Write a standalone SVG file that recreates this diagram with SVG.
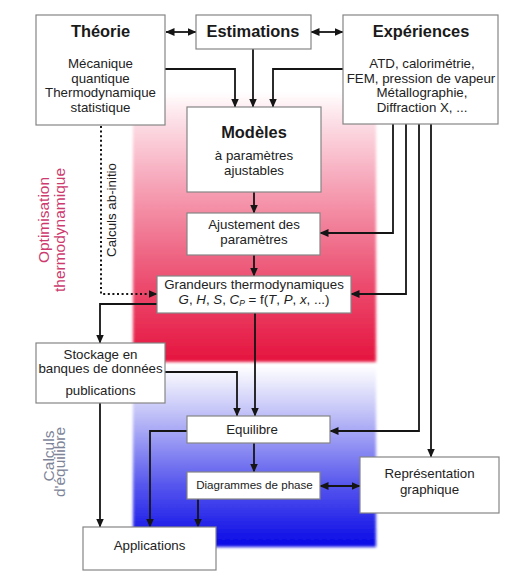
<svg xmlns="http://www.w3.org/2000/svg" width="512" height="575" viewBox="0 0 512 575">
<style>
.box{fill:#fff;stroke:#858585;stroke-width:1.2}
.t{font-family:"Liberation Sans",Arial,sans-serif;font-size:13.3px;fill:#222;text-anchor:middle}
.h{font-family:"Liberation Sans",Arial,sans-serif;font-size:16.4px;font-weight:bold;fill:#1a1a1a;text-anchor:middle}
.s{font-family:"Liberation Sans",Arial,sans-serif;font-size:11.6px;fill:#222;text-anchor:middle}
.side{font-family:"Liberation Sans",Arial,sans-serif;font-size:15.5px;text-anchor:middle}
.c{fill:none;stroke:#151515;stroke-width:1.8}
.arr{marker-end:url(#ah)}
.dbl{marker-start:url(#ah);marker-end:url(#ah)}
.dot{fill:none;stroke:#151515;stroke-width:2;stroke-dasharray:2 2.6}
</style>
<defs>
<marker id="ah" markerUnits="userSpaceOnUse" markerWidth="9" markerHeight="9" refX="8.5" refY="4.5" orient="auto-start-reverse" viewBox="0 0 9 9">
<path d="M0,0.5 L9,4.5 L0,8.5 z" fill="#151515"/>
</marker>
<linearGradient id="gr" x1="0" y1="0" x2="0" y2="1">
<stop offset="0" stop-color="#ffffff"/>
<stop offset="0.08" stop-color="#fde6ec"/>
<stop offset="0.35" stop-color="#f6a2b6"/>
<stop offset="0.7" stop-color="#ec4e70"/>
<stop offset="1" stop-color="#e5143f"/>
</linearGradient>
<linearGradient id="gb" x1="0" y1="0" x2="0" y2="1">
<stop offset="0" stop-color="#ffffff"/>
<stop offset="0.25" stop-color="#c4c4f8"/>
<stop offset="0.65" stop-color="#5858ee"/>
<stop offset="1" stop-color="#0808e6"/>
</linearGradient>
<filter id="soft" x="-5%" y="-5%" width="110%" height="110%"><feGaussianBlur stdDeviation="1.5"/></filter>
</defs>
<rect width="512" height="575" fill="#fff"/>
<g id="bg">
<rect x="133" y="92" width="243" height="270" fill="url(#gr)" filter="url(#soft)"/>
<rect x="133" y="366" width="243" height="181" fill="url(#gb)" filter="url(#soft)"/>
</g>
<g id="labels">
<text class="side" fill="#cc3a6e" transform="translate(49,220) rotate(-90)">Optimisation</text>
<text class="side" fill="#cc3a6e" transform="translate(65,230) rotate(-90)">thermodynamique</text>
<text class="side" fill="#7d8498" transform="translate(54,456) rotate(-90)">Calculs</text>
<text class="side" fill="#7d8498" transform="translate(65,462) rotate(-90)">d'équilibre</text>
<text class="t" fill="#333" transform="translate(115.5,210) rotate(-90)">Calculs ab-initio</text>
</g>
<g id="connectors">
<path class="c dbl" d="M166,32 H196"/>
<path class="c dbl" d="M311,32 H343"/>
<path class="c arr" d="M165,69 H235 V107"/>
<path class="c arr" d="M253,49 V107"/>
<path class="c arr" d="M343,69 H273 V107"/>
<path class="c arr" d="M254,192 V213"/>
<path class="c arr" d="M254,255 V276"/>
<path class="c arr" d="M393,124 V233 H320"/>
<path class="c arr" d="M406,124 V294 H351"/>
<path class="c arr" d="M419,124 V431 H330"/>
<path class="c arr" d="M431,124 V457"/>
<path class="dot" d="M101,126 V294 H150"/>
<path class="c arr" d="M150,294 H157" style="stroke-width:1"/>
<path class="c arr" d="M157,304 H100 V343"/>
<path class="c arr" d="M255,313 V416"/>
<path class="c arr" d="M165,372 H237 V416"/>
<path class="c arr" d="M100,403 V527"/>
<path class="c arr" d="M187,431 H150 V527"/>
<path class="c arr" d="M198,499 V527"/>
<path class="c arr" d="M254,443 V472"/>
<path class="c dbl" d="M320,486 H360"/>
</g>
<g id="theorie">
<rect class="box" x="36" y="15" width="129" height="110"/>
<text class="h" x="100.5" y="37">Théorie</text>
<text class="t" x="100.5" y="67.5">Mécanique</text>
<text class="t" x="100.5" y="82.5">quantique</text>
<text class="t" x="100.5" y="97">Thermodynamique</text>
<text class="t" x="100.5" y="111.5">statistique</text>
</g>
<g id="estimations">
<rect class="box" x="196" y="15" width="115" height="34"/>
<text class="h" x="253" y="37">Estimations</text>
</g>
<g id="experiences">
<rect class="box" x="343" y="15" width="155" height="109"/>
<text class="h" x="421" y="37">Expériences</text>
<text class="t" x="422" y="68">ATD, calorimétrie,</text>
<text class="t" x="421" y="83">FEM, pression de vapeur</text>
<text class="t" x="422" y="97">Métallographie,</text>
<text class="t" x="422" y="112">Diffraction X, ...</text>
</g>
<g id="modeles">
<rect class="box" x="187" y="107" width="134" height="85"/>
<text class="h" x="254" y="138">Modèles</text>
<text class="t" x="254" y="160">à paramètres</text>
<text class="t" x="254" y="175">ajustables</text>
</g>
<g id="ajustement">
<rect class="box" x="187" y="213" width="133" height="42"/>
<text class="t" x="254" y="229">Ajustement des</text>
<text class="t" x="254" y="243.5">paramètres</text>
</g>
<g id="grandeurs">
<rect class="box" x="157" y="276" width="194" height="37"/>
<text class="t" x="254" y="289">Grandeurs thermodynamiques</text>
<text class="t" x="254" y="304"><tspan font-style="italic">G</tspan>, <tspan font-style="italic">H</tspan>, <tspan font-style="italic">S</tspan>, <tspan font-style="italic">C</tspan><tspan font-style="italic" font-size="8.5" dy="2">P</tspan><tspan dy="-2"> = f(</tspan><tspan font-style="italic">T</tspan>, <tspan font-style="italic">P</tspan>, <tspan font-style="italic">x</tspan>, ...)</text>
</g>
<g id="stockage">
<rect class="box" x="36" y="343" width="129" height="60"/>
<text class="t" x="100.5" y="359">Stockage en</text>
<text class="t" x="100.5" y="373">banques de données</text>
<text class="t" x="100.5" y="395">publications</text>
</g>
<g id="equilibre">
<rect class="box" x="187" y="416" width="143" height="27"/>
<text class="t" x="252" y="434">Equilibre</text>
</g>
<g id="diagrammes">
<rect class="box" x="187" y="472" width="133" height="27"/>
<text class="s" x="254.5" y="489">Diagrammes de phase</text>
</g>
<g id="representation">
<rect class="box" x="360" y="457" width="139" height="56"/>
<text class="t" x="429.5" y="478">Représentation</text>
<text class="t" x="429.5" y="494">graphique</text>
</g>
<g id="applications">
<rect class="box" x="83" y="527" width="133" height="43"/>
<text class="t" x="149.5" y="550">Applications</text>
</g>
</svg>
